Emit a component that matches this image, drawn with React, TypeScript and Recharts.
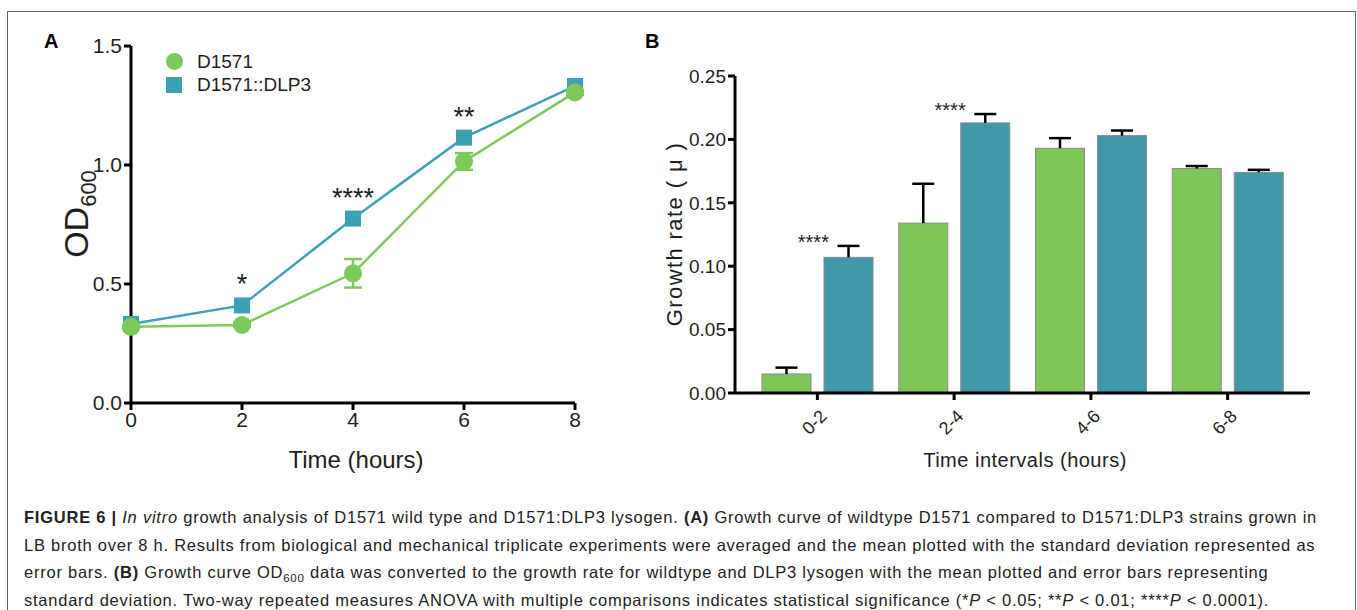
import {
  LineChart,
  Line,
  XAxis,
  YAxis,
  ErrorBar,
  LabelList,
  BarChart,
  Bar,
  ReferenceDot,
} from "recharts";

// Panel A: OD600 growth curve
const HOURS = [0, 2, 4, 6, 8];
const OD_WT = [0.32, 0.328, 0.545, 1.015, 1.305];
const OD_WT_SD = [0.008, 0.008, 0.06, 0.035, 0.01];
const OD_DLP = [0.332, 0.41, 0.775, 1.115, 1.332];
const OD_DLP_SD = [0.008, 0.01, 0.012, 0.012, 0.008];
const OD_SIG = ["", "*", "****", "**", ""];
const OD_TICKS = [0, 0.5, 1, 1.5];

// Panel B: growth rate per interval
const INTERVALS = ["0-2", "2-4", "4-6", "6-8"];
const RATE_WT = [0.015, 0.134, 0.193, 0.177];
const RATE_WT_SD = [0.005, 0.031, 0.008, 0.002];
const RATE_DLP = [0.107, 0.213, 0.203, 0.174];
const RATE_DLP_SD = [0.009, 0.007, 0.004, 0.002];
const RATE_SIG = ["****", "****", "", ""];
const RATE_TICKS = [0, 0.05, 0.1, 0.15, 0.2, 0.25];

const GREEN = "#7dc95a";
const TEAL = "#3ea1b3";
const BAR_GREEN = "#80c55a";
const BAR_TEAL = "#4198a8";
const INK = "#1e1e1e";
const FONT = "'Liberation Sans', Arial, Helvetica, sans-serif";

const odRows = HOURS.map((h, i) => ({
  t: h,
  wt: OD_WT[i],
  wtErr: OD_WT_SD[i],
  dlp: OD_DLP[i],
  dlpErr: OD_DLP_SD[i],
  sig: OD_SIG[i],
}));

const rateRows = INTERVALS.map((k, i) => ({
  k,
  wt: RATE_WT[i],
  wtErr: RATE_WT_SD[i],
  dlp: RATE_DLP[i],
  dlpErr: RATE_DLP_SD[i],
}));

const axisLine = { stroke: "#000", strokeWidth: 3 };

function SquareDot(props: any) {
  const { cx, cy, index } = props;
  return <rect key={`sq-${index}`} x={cx - 8} y={cy - 8} width={16} height={16} fill={TEAL} />;
}

function SigLabel(props: any) {
  const { x, y, value } = props;
  if (!value) return null;
  return (
    <text x={x} y={y - 12} textAnchor="middle" fontSize={27} fill={INK} fontFamily={FONT}>
      {value}
    </text>
  );
}

// bar with an upward-only SD whisker (length taken from the bar's own px/value ratio)
function BarWithSd(props: any) {
  const { x, y, width, height, fill, payload, errKey, dataKey } = props;
  const v = payload[dataKey];
  const perUnit = v ? height / v : 0;
  const top = y - payload[errKey] * perUnit;
  const cx = x + width / 2;
  return (
    <g>
      <rect x={x} y={y} width={width} height={height} fill={fill} stroke="#8a8a8a" strokeWidth={1} />
      <line x1={cx} x2={cx} y1={y} y2={top} stroke="#000" strokeWidth={2.5} />
      <line x1={cx - 11} x2={cx + 11} y1={top} y2={top} stroke="#000" strokeWidth={2.5} />
    </g>
  );
}

function BarSig(props: any) {
  const { viewBox, value } = props;
  const cx = viewBox.x + viewBox.width / 2;
  const cy = viewBox.y + viewBox.height / 2;
  return (
    <text x={cx - 4} y={cy + 3} textAnchor="middle" fontSize={20} fill={INK} fontFamily={FONT}>
      {value}
    </text>
  );
}

function SlantTick({ x, y, payload }: any) {
  return (
    <text
      transform={`translate(${x + 6}, ${y + 11}) rotate(-45)`}
      textAnchor="end"
      dy="0.35em"
      fontSize={18}
      fill={INK}
      fontFamily={FONT}
    >
      {payload.value}
    </text>
  );
}

const abs = (left: number, top: number): React.CSSProperties => ({
  position: "absolute",
  left,
  top,
});

const subStyle: React.CSSProperties = { lineHeight: 0 };

export default function App() {
  return (
    <div style={{ position: "absolute", left: 0, top: 0, width: 1357, height: 610, fontFamily: FONT }}>
      {/* figure frame */}
      <div
        style={{
          position: "absolute",
          left: 7,
          top: 11,
          width: 1347,
          height: 620,
          border: "1.5px solid #666",
        }}
      />

      <div style={{ ...abs(44, 30), fontWeight: 700, fontSize: 20 }}>A</div>
      <div style={{ ...abs(645, 30), fontWeight: 700, fontSize: 20 }}>B</div>

      {/* Panel A */}
      <div style={abs(0, 0)}>
        <LineChart width={620} height={480} data={odRows} margin={{ top: 46, right: 45, bottom: 0, left: 0 }}>
          <XAxis
            dataKey="t"
            type="number"
            domain={[0, 8]}
            ticks={HOURS}
            height={77}
            axisLine={axisLine}
            tickLine={axisLine}
            tickSize={7}
            tick={{ fill: INK, fontSize: 21, fontFamily: FONT }}
          />
          <YAxis
            domain={[0, 1.5]}
            ticks={OD_TICKS}
            width={131}
            axisLine={axisLine}
            tickLine={axisLine}
            tickSize={7}
            tickFormatter={(v: number) => v.toFixed(1)}
            tick={{ fill: INK, fontSize: 21, fontFamily: FONT }}
          />
          <Line
            dataKey="dlp"
            stroke={TEAL}
            strokeWidth={2.5}
            dot={<SquareDot />}
            isAnimationActive={false}
          >
            <ErrorBar dataKey="dlpErr" direction="y" width={8} stroke={TEAL} strokeWidth={2.5} />
            <LabelList dataKey="sig" content={<SigLabel />} />
          </Line>
          <Line
            dataKey="wt"
            stroke={GREEN}
            strokeWidth={2.5}
            dot={{ r: 9, fill: GREEN, stroke: GREEN, strokeWidth: 0 }}
            isAnimationActive={false}
          >
            <ErrorBar dataKey="wtErr" direction="y" width={9} stroke={GREEN} strokeWidth={2.5} />
          </Line>
        </LineChart>
      </div>

      {/* legend A */}
      <div style={{ ...abs(166, 50), fontSize: 19, color: INK, lineHeight: "23px" }}>
        <div style={{ display: "flex", alignItems: "center" }}>
          <span style={{ width: 17, height: 17, borderRadius: "50%", background: GREEN, marginRight: 14 }} />
          D1571
        </div>
        <div style={{ display: "flex", alignItems: "center" }}>
          <span style={{ width: 16, height: 16, background: TEAL, marginRight: 15 }} />
          D1571::DLP3
        </div>
      </div>

      <div
        style={{
          ...abs(76, 214),
          transform: "translate(-50%, -50%) rotate(-90deg)",
          fontSize: 34,
          lineHeight: "40px",
          color: INK,
          whiteSpace: "nowrap",
        }}
      >
        OD<sub style={{ fontSize: 22, lineHeight: 0 }}>600</sub>
      </div>
      <div
        style={{
          ...abs(356, 460),
          transform: "translate(-50%, -50%)",
          fontSize: 24,
          color: INK,
          whiteSpace: "nowrap",
        }}
      >
        Time (hours)
      </div>

      {/* Panel B */}
      <div style={abs(620, 0)}>
        <BarChart
          width={737}
          height={480}
          data={rateRows}
          margin={{ top: 76, right: 47, bottom: 0, left: 0 }}
          barSize={49}
          barGap={13}
        >
          <XAxis
            dataKey="k"
            height={87}
            padding={{ left: 14, right: 14 }}
            axisLine={axisLine}
            tickLine={axisLine}
            tickSize={7}
            tickMargin={2}
            tick={<SlantTick />}
          />
          <YAxis
            domain={[0, 0.25]}
            ticks={RATE_TICKS}
            width={115}
            axisLine={axisLine}
            tickLine={axisLine}
            tickSize={7}
            tickFormatter={(v: number) => v.toFixed(2)}
            tick={{ fill: INK, fontSize: 19, fontFamily: FONT }}
          />
          <Bar
            dataKey="wt"
            fill={BAR_GREEN}
            shape={<BarWithSd errKey="wtErr" dataKey="wt" />}
            isAnimationActive={false}
          />
          <Bar
            dataKey="dlp"
            fill={BAR_TEAL}
            shape={<BarWithSd errKey="dlpErr" dataKey="dlp" />}
            isAnimationActive={false}
          />
          {INTERVALS.map((k, i) =>
            RATE_SIG[i] ? (
              <ReferenceDot
                key={k}
                x={k}
                y={RATE_DLP[i] + RATE_DLP_SD[i]}
                r={1}
                fill="none"
                stroke="none"
                label={<BarSig value={RATE_SIG[i]} />}
              />
            ) : null
          )}
        </BarChart>
      </div>
      <div
        style={{
          ...abs(675, 234),
          transform: "translate(-50%, -50%) rotate(-90deg)",
          fontSize: 22,
          letterSpacing: 1.4,
          color: INK,
          whiteSpace: "nowrap",
        }}
      >
        Growth rate ( μ )
      </div>
      <div
        style={{
          ...abs(1025, 460),
          transform: "translate(-50%, -50%)",
          fontSize: 20,
          letterSpacing: 0.5,
          color: INK,
          whiteSpace: "nowrap",
        }}
      >
        Time intervals (hours)
      </div>

      {/* Caption */}
      <div
        style={{
          ...abs(24, 504),
          fontSize: 16.5,
          letterSpacing: 0.76,
          lineHeight: "27.7px",
          color: "#222",
          whiteSpace: "nowrap",
        }}
      >
        <div>
          <b>FIGURE 6 |</b> <i>In vitro</i> growth analysis of D1571 wild type and D1571:DLP3 lysogen. <b>(A)</b> Growth
          curve of wildtype D1571 compared to D1571:DLP3 strains grown in
        </div>
        <div>
          LB broth over 8 h. Results from biological and mechanical triplicate experiments were averaged and the mean
          plotted with the standard deviation represented as
        </div>
        <div>
          error bars. <b>(B)</b> Growth curve OD<sub style={{ ...subStyle, fontSize: 11.5 }}>600</sub> data was
          converted to the growth rate for wildtype and DLP3 lysogen with the mean plotted and error bars representing
        </div>
        <div>
          standard deviation. Two-way repeated measures ANOVA with multiple comparisons indicates statistical
          significance (*<i>P</i> &lt; 0.05; **<i>P</i> &lt; 0.01; ****<i>P</i> &lt; 0.0001).
        </div>
      </div>
    </div>
  );
}
